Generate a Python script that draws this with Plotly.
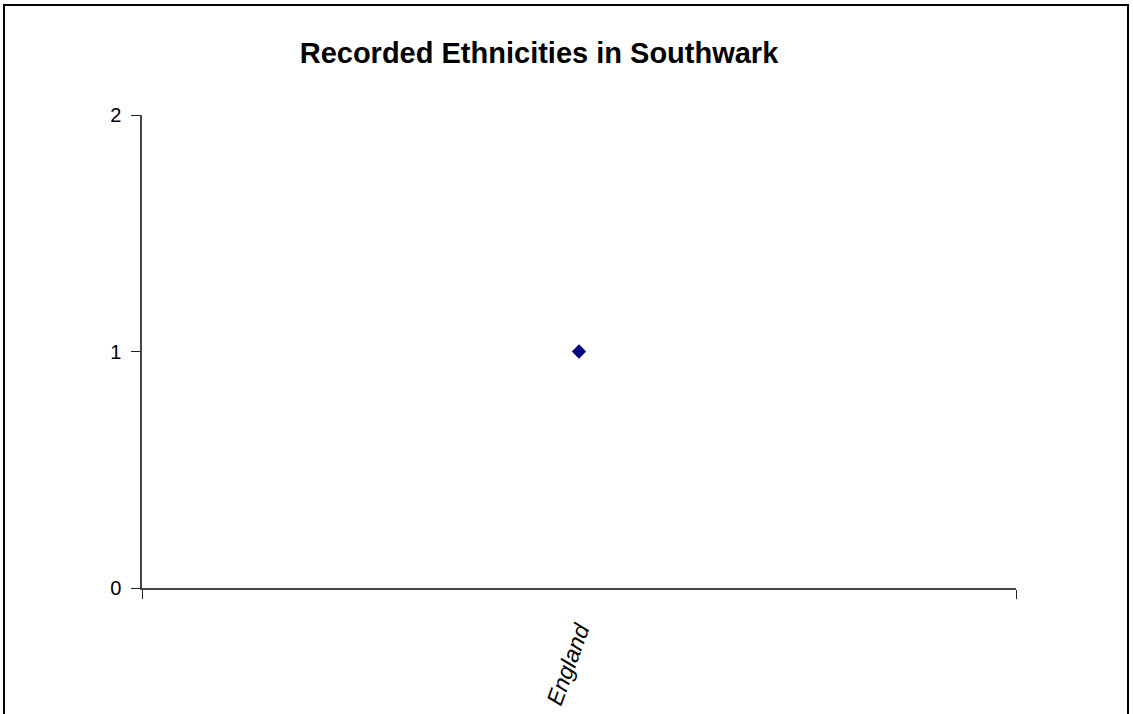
import plotly.graph_objects as go

# data
countries = ['England']
counts = [1]

W, H = 1133, 714
left, right, top, bottom = 142, 1016, 115, 588
pw, ph = right - left, bottom - top

fig = go.Figure()
fig.add_trace(go.Scatter(
    x=countries, y=counts, mode='markers',
    marker=dict(symbol='diamond', size=11, color='#000080'),
    showlegend=False,
))

axis_col = '#444444'
fig.update_xaxes(
    type='category', range=[-0.5, 0.5], tickson='boundaries', automargin=False,
    showline=True, linecolor=axis_col, linewidth=1.5,
    ticks='outside', ticklen=9, tickcolor='#222222', tickwidth=1.2,
    showgrid=False, zeroline=False, tickangle=-70, ticklabelstandoff=18,
    tickfont=dict(family='Liberation Sans, Arial', size=23, color='black', style='italic'),
)
fig.update_yaxes(
    range=[0, 2], dtick=1, automargin=False,
    showline=True, linecolor=axis_col, linewidth=1.5,
    ticks='outside', ticklen=9, tickcolor='#222222', tickwidth=1.2,
    showgrid=False, zeroline=False, ticklabelstandoff=6,
    tickfont=dict(family='Liberation Sans, Arial', size=20, color='black'),
)

# outer frame of the chart (runs off the bottom of the picture)
fig.add_shape(type='rect', xref='paper', yref='paper',
              x0=(4 - left) / pw, x1=(1128 - left) / pw,
              y0=(bottom - 760) / ph, y1=(bottom - 5) / ph,
              line=dict(color='black', width=2), layer='above')

fig.update_layout(
    width=W, height=H,
    margin=dict(l=left, r=W - right, t=top, b=H - bottom, pad=0, autoexpand=False),
    paper_bgcolor='white', plot_bgcolor='white',
    title=dict(text='<b>Recorded Ethnicities in Southwark</b>',
               x=539 / W, xanchor='center', y=1 - 53 / H, yanchor='middle',
               font=dict(family='Liberation Sans, Arial', size=29, color='black')),
)

fig.write_html('out.html', config={'displayModeBar': False},
               post_script="document.body.style.margin='0';")
